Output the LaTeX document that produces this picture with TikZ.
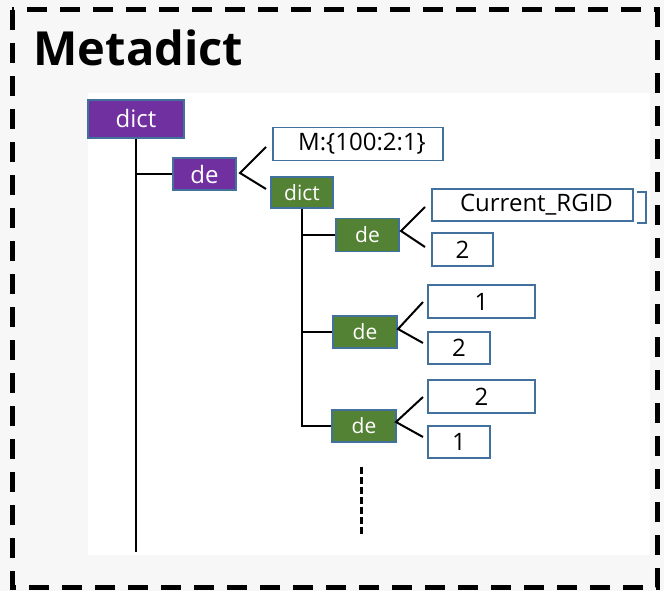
\documentclass[tikz,border=0pt]{standalone}
\usepackage{fontspec}
\setmainfont{Open Sans}
\definecolor{purp}{HTML}{7030A0}
\definecolor{grn}{HTML}{548235}
\definecolor{edge}{HTML}{41719C}
\definecolor{bg}{HTML}{F7F7F7}
\tikzset{
  box/.style={draw=edge, line width=1.1pt, inner sep=0pt, anchor=center},
  pbox/.style={box, fill=purp, text=white},
  gbox/.style={box, fill=grn, text=white},
  wbox/.style={box, fill=white, text=black},
  conn/.style={line width=2pt, black},
}
\begin{document}
\begin{tikzpicture}[x=1pt,y=-1pt]
\useasboundingbox (0,0) rectangle (664,591);
\fill[bg] (0,0) rectangle (664,591);
\fill[white] (88,93) rectangle (650,555);
\draw[line width=5pt, dash pattern=on 20pt off 13pt] (12,10) rectangle (657,587);
\node[anchor=base west, font=\fontsize{47}{50}\selectfont\bfseries] (title) at (30,66) {Metadict};

% purple level
\node[pbox, minimum width=96pt, minimum height=38pt, font=\fontsize{24}{28}\selectfont] (d0) at (136,119) {dict};
\node[pbox, minimum width=63pt, minimum height=32pt, font=\fontsize{24}{28}\selectfont] (e0) at (204.5,174) {de};
\node[wbox, minimum width=170pt, minimum height=33pt, font=\fontsize{24}{28}\selectfont] (m) at (358,144) {\hspace{8pt}M:\{100:2:1\}};
\node[gbox, minimum width=62pt, minimum height=31pt, font=\fontsize{21}{25}\selectfont] (d1) at (302,192.5) {dict};

% green level
\node[gbox, minimum width=63pt, minimum height=33pt, font=\fontsize{21}{25}\selectfont] (e1) at (367.5,235) {de};
\node[gbox, minimum width=64pt, minimum height=32pt, font=\fontsize{21}{25}\selectfont] (e2) at (365,332) {de};
\node[gbox, minimum width=64pt, minimum height=32pt, font=\fontsize{21}{25}\selectfont] (e3) at (364,426) {de};

% leaves
\draw[edge, line width=1.1pt] (637,192) -- (646,192) -- (646,223) -- (637,223);
\node[wbox, minimum width=201pt, minimum height=32pt, font=\fontsize{24}{28}\selectfont] (k1) at (532.5,205) {\hspace{8pt}Current\_RGID};
\node[wbox, minimum width=61pt, minimum height=33pt, font=\fontsize{24}{28}\selectfont] (v1) at (462.5,249.5) {2};
\node[wbox, minimum width=107pt, minimum height=33pt, font=\fontsize{24}{28}\selectfont] (k2) at (481.5,301.5) {1};
\node[wbox, minimum width=62pt, minimum height=32pt, font=\fontsize{24}{28}\selectfont] (v2) at (459,348) {2};
\node[wbox, minimum width=107pt, minimum height=33pt, font=\fontsize{24}{28}\selectfont] (k3) at (481.5,396.5) {2};
\node[wbox, minimum width=62pt, minimum height=32pt, font=\fontsize{24}{28}\selectfont] (v3) at (459,442) {1};

% coordinates
\coordinate (end0) at (136,552);
\coordinate (f0) at (240,173);
\coordinate (f0a) at (266,147);
\coordinate (f0b) at (266,189);
\coordinate (f1) at (401,231);
\coordinate (f1a) at (425,207);
\coordinate (f1b) at (425,247);
\coordinate (f2) at (398,329);
\coordinate (f2a) at (423,302);
\coordinate (f2b) at (423,343);
\coordinate (f3) at (396,422);
\coordinate (f3a) at (423,397);
\coordinate (f3b) at (423,437);
\coordinate (dots0) at (361,467);
\coordinate (dots1) at (361,537);

% connectors
\draw[conn] (d0.south) -- (end0);
\draw[conn] (d0.south |- e0.west) -- (e0.west);
\draw[conn] (f0a) -- (f0) -- (f0b);
\draw[conn] (d1.south) -- (d1.south |- e3.west) -- (e3.west);
\draw[conn] (d1.south |- e1.west) -- (e1.west);
\draw[conn] (d1.south |- e2.west) -- (e2.west);
\draw[conn] (f1a) -- (f1) -- (f1b);
\draw[conn] (f2a) -- (f2) -- (f2b);
\draw[conn] (f3a) -- (f3) -- (f3b);
\draw[line width=3pt, dash pattern=on 7pt off 3pt] (dots0) -- (dots1);
\end{tikzpicture}
\end{document}
